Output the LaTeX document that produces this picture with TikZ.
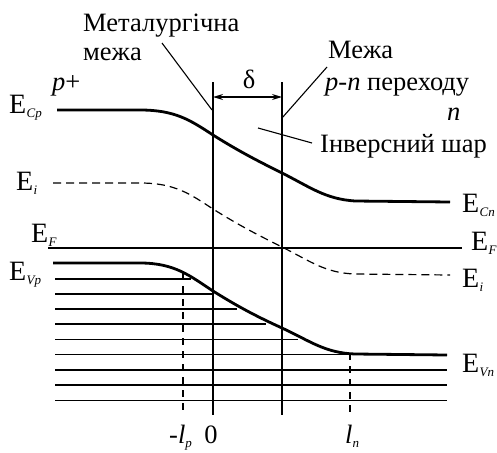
\documentclass[tikz,border=0pt]{standalone}
\usepackage{fontspec}
\setmainfont{Liberation Serif}
\usetikzlibrary{arrows.meta}
\newcommand\En[1]{{\fontsize{28}{30}\selectfont E}\kern0.3pt\raisebox{-4pt}{\fontsize{13}{13}\selectfont\itshape #1}}
\begin{document}
\begin{tikzpicture}[x=1pt,y=-1pt,font=\fontsize{26.5}{30}\selectfont,
  lbl/.style={inner sep=0pt,anchor=base west},
  band/.style={line width=2.8pt},
  hl/.style={line width=1.3pt},
  leader/.style={line width=1.1pt},
  dashE/.style={line width=1.2pt,dash pattern=on 8pt off 5pt},
  dashV/.style={line width=1.2pt,dash pattern=on 7pt off 6pt},
  tip/.style={{Stealth[length=10pt,width=6pt]}-{Stealth[length=10pt,width=6pt]}}]
\useasboundingbox (0,0) rectangle (497,452);
% vertical boundaries
\coordinate (mbT) at (213,82); \coordinate (mbB) at (213,415);
\coordinate (pnT) at (282,82); \coordinate (pnB) at (282,415);
\draw[hl] (mbT) -- (mbB);
\draw[hl] (pnT) -- (pnB);
\coordinate (dL) at (213,97); \coordinate (dR) at (282,97);
\draw[hl,tip] (dL) -- (dR);
\node[inner sep=0pt,anchor=base] (delta) at (249,88) {δ};
% bands
\draw[band] (57,110) -- (140,110) .. controls (175,110) and (190,120) .. (213,135) .. controls (240,152) and (260,162) .. (282,173) .. controls (310,187) and (325,199) .. (355,201) -- (450,202);
\draw[dashE] (53,183) -- (140,183) .. controls (175,183) and (190,194) .. (213,209) .. controls (240,226) and (260,236) .. (282,247) .. controls (310,261) and (325,273) .. (355,274) -- (450,275);
\draw[band] (53,263) -- (140,263) .. controls (175,263) and (190,276) .. (213,291) .. controls (240,308) and (260,318) .. (282,328) .. controls (310,341) and (325,353) .. (355,354) -- (447,355);
% Fermi level
\coordinate (efL) at (48,248); \coordinate (efR) at (462,248);
\draw[hl] (efL) -- (efR);
% filled states
\foreach \y/\xe in {279/191,294/214,309/237,324/266,339.5/298,354.5/447,370/447,385/447,400.5/447}
  \draw[hl] (55,\y) -- (\xe,\y);
% depletion edges
\coordinate (lpT) at (183,273); \coordinate (lpB) at (183,412);
\coordinate (lnT) at (350,353); \coordinate (lnB) at (350,415);
\draw[dashV] (lpT) -- (lpB);
\draw[dashV] (lnT) -- (lnB);
% labels
\node[lbl] (met) at (83,32) {Металургічна};
\node[lbl] (mezha) at (83,60) {межа};
\coordinate (a1) at (162,43); \coordinate (a2) at (212,110);
\draw[leader] (a1) -- (a2);
\node[lbl] (mpn) at (328,58) {Межа};
\node[lbl] (pnl) at (325,90) {\textit{p-n} переходу};
\coordinate (b1) at (327,67); \coordinate (b2) at (282,118);
\draw[leader] (b1) -- (b2);
\node[lbl] (nlab) at (447,120) {\textit{n}};
\node[lbl] (inv) at (320,152) {Інверсний шар};
\coordinate (c1) at (258,128); \coordinate (c2) at (312,143);
\draw[leader] (c1) -- (c2);
\node[lbl] (pplus) at (52,90) {\textit{p}+};
\node[lbl] (ecp) at (9,113) {\En{Cp}};
\node[lbl] (eil) at (16,190) {\En{i}};
\node[lbl] (efl) at (31,242) {\En{F}};
\node[lbl] (evp) at (9,280) {\En{Vp}};
\node[lbl] (ecn) at (462,212) {\En{Cn}};
\node[lbl] (efr) at (471,250) {\En{F}};
\node[lbl] (eir) at (462,287) {\En{i}};
\node[lbl] (evn) at (462,372) {\En{Vn}};
\node[lbl] (lp) at (169,443) {-\textit{l}\raisebox{-4pt}{\fontsize{13}{13}\selectfont\itshape p}};
\node[inner sep=0pt,anchor=base] (zero) at (211,443) {0};
\node[lbl] (ln) at (345,443) {\textit{l}\raisebox{-4pt}{\fontsize{13}{13}\selectfont\itshape n}};
\end{tikzpicture}
\end{document}
